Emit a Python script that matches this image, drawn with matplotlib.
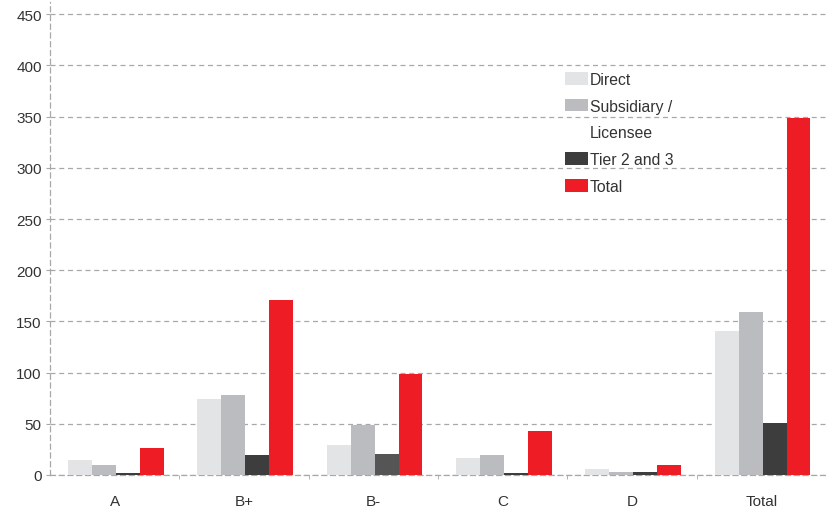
import matplotlib.pyplot as plt
from matplotlib.patches import Patch
import numpy as np

# data
groups = ["A", "B+", "B-", "C", "D", "Total"]
direct = [15, 74, 29, 17, 6, 141]
subsidiary = [10, 78, 49, 19.5, 3, 159.5]
tier23 = [2, 20, 21, 1.5, 3, 51]
total = [26, 171, 99, 43, 10, 349]

series = [
    ("Direct", direct, "#e3e4e6"),
    ("Subsidiary /", subsidiary, "#bbbcc0"),
    ("Tier 2 and 3", tier23, "#3d3d3d"),
    ("Total", total, "#ee1c25"),
]

plt.rcParams['font.family'] = ['Liberation Sans', 'DejaVu Sans']

fig = plt.figure(figsize=(8.26, 5.10), dpi=100)
ax = fig.add_axes([50 / 826, 34 / 510, 1 - 50 / 826, (476 - 3) / 510])

x = np.arange(len(groups))
w = 0.185
handles = []
for i, (name, vals, col) in enumerate(series):
    cols = [col] * len(vals)
    if name == "Tier 2 and 3":
        cols[2] = "#555555"  # slightly lighter in the original
    ax.bar(x + (i - 1.5) * w + 0.01, vals, w, color=cols, zorder=3)
    handles.append(Patch(facecolor=col, label=name))
    if name == "Subsidiary /":
        # second line of the label sits on its own row in the original
        handles.append(Patch(facecolor='none', edgecolor='none', label="Licensee"))

ax.set_xlim(-0.5, len(groups) - 0.5)
ax.set_ylim(0, 462)
ax.set_yticks(np.arange(0, 451, 50))
ax.set_xticks(x)
ax.set_xticklabels(groups)
ax.set_xticks(np.arange(0.5, len(groups) - 0.5, 1), minor=True)

ax.grid(axis='y', linestyle=(0, (4, 3)), color='#a8a8a8', linewidth=0.9, zorder=0)
for s in ['top', 'right']:
    ax.spines[s].set_visible(False)
for s in ['left', 'bottom']:
    ax.spines[s].set_linestyle((0, (4, 3)))
    ax.spines[s].set_color('#a8a8a8')
    ax.spines[s].set_linewidth(0.9)

ax.tick_params(axis='y', length=3, color='#a8a8a8', labelsize=11, labelcolor='#333333', pad=3)
ax.tick_params(axis='x', which='major', length=0, labelsize=11, labelcolor='#333333', pad=14)
ax.tick_params(axis='x', which='minor', length=3, color='#a8a8a8')

ax.legend(handles=handles, loc='upper left', bbox_to_anchor=(557 / 826, 1 - 65 / 510),
          bbox_transform=fig.transFigure, frameon=False, fontsize=11.3,
          handlelength=1.45, handleheight=0.85, handletextpad=0.15,
          labelspacing=0.75, borderpad=0, labelcolor='#333333')

fig.savefig("out.png", dpi=100)
